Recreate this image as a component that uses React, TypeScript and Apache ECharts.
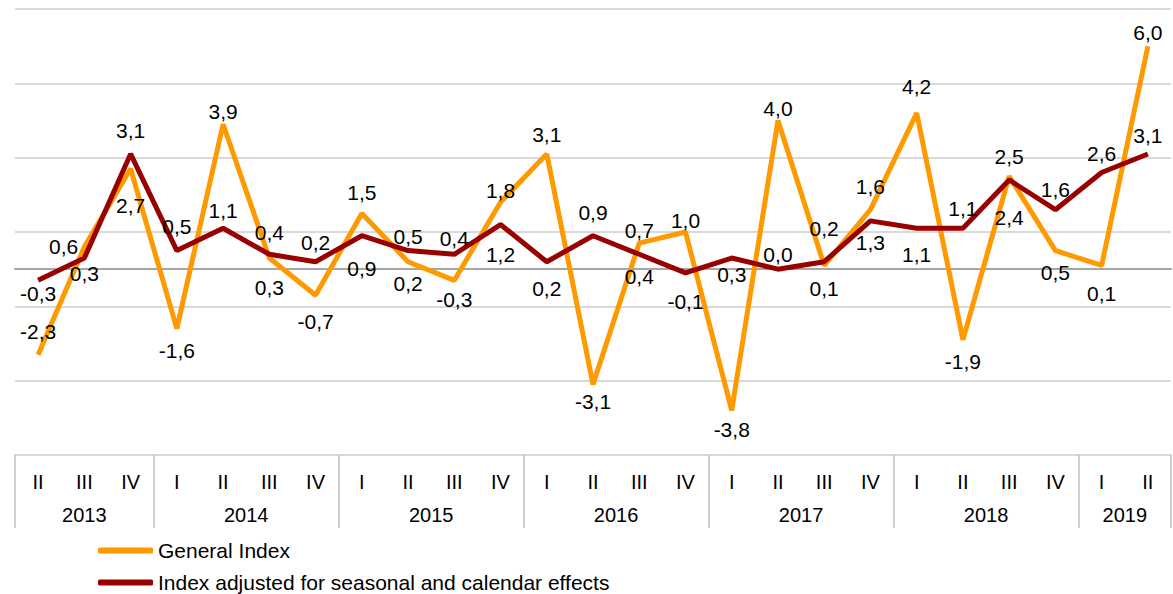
import React, { useEffect, useRef } from "react";
import * as echarts from "echarts";

// ---- data ----
const YEARS = ["2013", "2014", "2015", "2016", "2017", "2018", "2019"];
const QUARTERS_BY_YEAR = [
  ["II", "III", "IV"],
  ["I", "II", "III", "IV"],
  ["I", "II", "III", "IV"],
  ["I", "II", "III", "IV"],
  ["I", "II", "III", "IV"],
  ["I", "II", "III", "IV"],
  ["I", "II"],
];

const GENERAL_INDEX = [
  -2.3, 0.6, 2.7, -1.6, 3.9, 0.3, -0.7, 1.5, 0.2, -0.3, 1.8, 3.1, -3.1, 0.7, 1.0,
  -3.8, 4.0, 0.1, 1.6, 4.2, -1.9, 2.5, 0.5, 0.1, 6.0,
];
const ADJUSTED_INDEX = [
  -0.3, 0.3, 3.1, 0.5, 1.1, 0.4, 0.2, 0.9, 0.5, 0.4, 1.2, 0.2, 0.9, 0.4, -0.1,
  0.3, 0.0, 0.2, 1.3, 1.1, 1.1, 2.4, 1.6, 2.6, 3.1,
];

// label placement style: side + distance
const GENERAL_LABEL_STYLE = [
  "t13", "l6", "b26", "b11", "t2", "b19", "b16", "t10", "b11", "b9", "t1", "t9", "b7",
  "t2", "t1", "b9", "t1", "b12", "t13", "t16", "b11", "t9", "b11", "b17", "t3",
];
const ADJUSTED_LABEL_STYLE = [
  "b3", "b5", "t13", "t14", "t7", "t11", "t9", "b22", "t4", "t5", "b19", "b16", "t13",
  "b12", "b18", "b6", "t4", "t23", "b11", "b16", "t9", "b27", "t10", "t8", "t8",
];

const SERIES_NAMES = [
  "General Index",
  "Index adjusted for seasonal and calendar effects",
];

const FONT = "'Liberation Sans', Arial, Helvetica, sans-serif";

const QUARTERS = QUARTERS_BY_YEAR.flat();

const SIDES: Record<string, string> = { t: "top", b: "bottom", l: "left", r: "right" };

function fmt(v: number) {
  return v.toFixed(1).replace(".", ",");
}

function buildData(values: number[], styles: string[]) {
  return values.map((v, i) => {
    const s = styles[i] || "t6";
    return {
      value: v,
      label: { position: SIDES[s[0]], distance: parseInt(s.slice(1), 10) },
    };
  });
}

export default function App() {
  const ref = useRef<HTMLDivElement>(null);

  useEffect(() => {
    if (!ref.current) return;
    const chart = echarts.init(ref.current, undefined, { renderer: "svg" });

    // year spans on the category scale
    const boundaries: number[] = [-0.5];
    const centers: number[] = [];
    let idx = 0;
    QUARTERS_BY_YEAR.forEach((qs) => {
      centers.push(idx + (qs.length - 1) / 2);
      idx += qs.length;
      boundaries.push(idx - 0.5);
    });
    const yearAt = (v: number) => {
      const k = centers.findIndex((c) => Math.abs(c - v) < 1e-6);
      return k >= 0 ? YEARS[k] : "";
    };

    const labelCommon = {
      show: true,
      color: "#000",
      fontSize: 21,
      fontFamily: FONT,
      formatter: (p: any) => fmt(p.value),
    };

    const legendCommon = {
      orient: "horizontal",
      left: 93,
      itemWidth: 55,
      itemHeight: 6,
      icon: "roundRect",
      textStyle: { color: "#000", fontSize: 21, fontFamily: FONT },
    };

    chart.setOption({
      animation: false,
      backgroundColor: "#fff",
      grid: { left: 15, right: 2, top: 9, bottom: 139, containLabel: false },
      legend: [
        { ...legendCommon, top: 535, data: [SERIES_NAMES[0]] },
        { ...legendCommon, top: 567, data: [SERIES_NAMES[1]] },
      ],
      xAxis: [
        {
          type: "category",
          data: QUARTERS,
          position: "bottom",
          boundaryGap: true,
          axisLine: { show: true, onZero: true, lineStyle: { color: "#a6a6a6", width: 2 } },
          axisTick: { show: false },
          axisLabel: { show: false },
          splitLine: { show: false },
          z: 3,
        },
        {
          type: "category",
          data: QUARTERS,
          position: "bottom",
          offset: 0,
          boundaryGap: true,
          axisLine: { show: true, onZero: false, lineStyle: { color: "#d9d9d9", width: 2 } },
          axisTick: { show: false },
          axisLabel: {
            show: true,
            interval: 0,
            margin: 17,
            color: "#000",
            fontSize: 20,
            fontFamily: FONT,
          },
          splitLine: { show: false },
        },
        {
          type: "value",
          min: -0.5,
          max: QUARTERS.length - 0.5,
          position: "bottom",
          offset: 73,
          axisLine: { show: false, onZero: false },
          axisTick: {
            show: true,
            inside: true,
            length: 73,
            customValues: boundaries,
            lineStyle: { color: "#bfbfbf", width: 1.5 },
          },
          axisLabel: {
            show: true,
            inside: true,
            margin: 3,
            customValues: centers,
            formatter: (v: number) => yearAt(v),
            color: "#000",
            fontSize: 20,
            fontFamily: FONT,
          },
          splitLine: { show: false },
        },
      ],
      yAxis: {
        type: "value",
        min: -5,
        max: 7,
        interval: 1,
        axisLine: { show: false },
        axisTick: { show: false },
        axisLabel: { show: false },
        splitLine: {
          show: true,
          lineStyle: { color: ["#d9d9d9", "rgba(0,0,0,0)"], width: 2 },
        },
      },
      series: [
        {
          name: SERIES_NAMES[0],
          type: "line",
          xAxisIndex: 0,
          data: buildData(GENERAL_INDEX, GENERAL_LABEL_STYLE),
          color: "#ff9900",
          lineStyle: { color: "#ff9900", width: 5 },
          symbol: "circle",
          symbolSize: 0.1,
          showSymbol: true,
          label: labelCommon,
          labelLayout: { hideOverlap: false },
          z: 4,
        },
        {
          name: SERIES_NAMES[1],
          type: "line",
          xAxisIndex: 0,
          data: buildData(ADJUSTED_INDEX, ADJUSTED_LABEL_STYLE),
          color: "#990000",
          lineStyle: { color: "#990000", width: 5 },
          symbol: "circle",
          symbolSize: 0.1,
          showSymbol: true,
          label: labelCommon,
          labelLayout: { hideOverlap: false },
          z: 5,
        },
      ],
    });

    return () => chart.dispose();
  }, []);

  return (
    <div
      ref={ref}
      style={{ position: "absolute", left: 0, top: 0, width: 1173, height: 594 }}
    />
  );
}
